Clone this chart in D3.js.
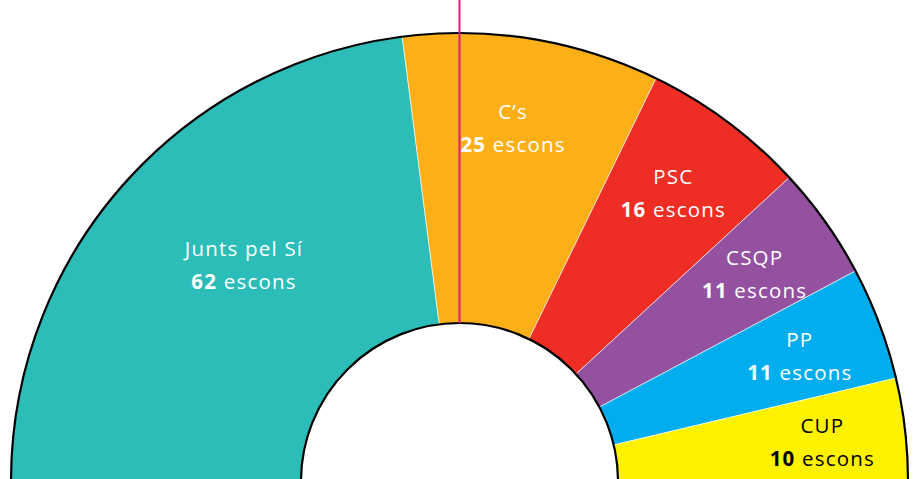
<!DOCTYPE html>
<html>
<head>
<meta charset="utf-8">
<script src="https://d3js.org/d3.v7.min.js"></script>
<style>
  body { margin: 0; background: #fff; }
  text { font-family: "Open Sans", Lato, sans-serif; }
</style>
</head>
<body>
<div id="chart"></div>
<script>
// seats per party, Parlament de Catalunya
var parties = ["Junts pel Sí", "C’s", "PSC", "CSQP", "PP", "CUP"];
var seats = [62, 25, 16, 11, 11, 10];
var colors = ["#2cbdb9", "#fcaf17", "#ee2e24", "#93519f", "#00aeef", "#fff200"];
var textColors = ["#fff", "#fff", "#fff", "#fff", "#fff", "#000"];

var width = 917, height = 479;
var cx = 459.5, cy = 481.5;
var outerR = 448.5, innerR = 158.5;

var svg = d3.select("#chart").append("svg")
  .attr("width", width)
  .attr("height", height);

var g = svg.append("g").attr("transform", "translate(" + cx + "," + cy + ")");

var pie = d3.pie().sort(null)
  .startAngle(-Math.PI / 2)
  .endAngle(Math.PI / 2);

var arcs = pie(seats);

var arc = d3.arc().innerRadius(innerR).outerRadius(outerR);

g.selectAll(".seg").data(arcs).enter().append("path")
  .attr("class", "seg")
  .attr("d", arc)
  .attr("fill", function(d, i) { return colors[i]; })
  .attr("stroke", "#fff")
  .attr("stroke-width", 0.6);

// black outline on the outer and inner edges
var edge = d3.arc().startAngle(-Math.PI / 2).endAngle(Math.PI / 2);
g.append("path")
  .attr("d", edge.innerRadius(outerR).outerRadius(outerR)())
  .attr("fill", "none").attr("stroke", "#000").attr("stroke-width", 2.2);
g.append("path")
  .attr("d", edge.innerRadius(innerR).outerRadius(innerR)())
  .attr("fill", "none").attr("stroke", "#000").attr("stroke-width", 2.2);

// majority line
g.append("line")
  .attr("x1", 0).attr("x2", 0)
  .attr("y1", -cy).attr("y2", -innerR)
  .attr("stroke", "#e5197f").attr("stroke-width", 2);

// labels
var labels = g.selectAll(".lab").data(arcs).enter().append("text")
  .attr("class", "lab")
  .attr("text-anchor", "middle")
  .attr("font-size", 20.5)
  .attr("letter-spacing", 1.2)
  .attr("fill", function(d, i) { return textColors[i]; })
  .attr("transform", function(d, i) {
    var a = (d.startAngle + d.endAngle) / 2 - 0.016;
    var r = 366;
    if (i === 0) { r = 312; a += 0.103; }
    return "translate(" + (r * Math.sin(a)) + "," + (-r * Math.cos(a)) + ")";
  });

labels.append("tspan")
  .attr("x", 0).attr("y", 0)
  .text(function(d, i) { return parties[i]; });

var l2 = labels.append("tspan").attr("x", 0).attr("y", 33);
l2.append("tspan").attr("font-weight", "bold").text(function(d) { return d.data; });
l2.append("tspan").text(" escons");
</script>
</body>
</html>
